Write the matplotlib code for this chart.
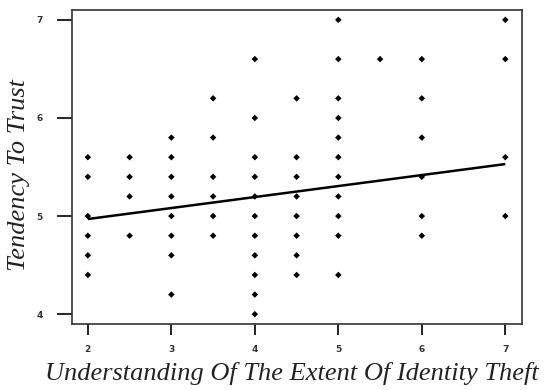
import numpy as np
import matplotlib
matplotlib.use("Agg")
import matplotlib.pyplot as plt

# --- Data: unique (x, y) positions --------------------------------------
understanding = [2, 2, 2, 2, 2, 2,
                 2.5, 2.5, 2.5, 2.5,
                 3, 3, 3, 3, 3, 3, 3, 3,
                 3.5, 3.5, 3.5, 3.5, 3.5, 3.5,
                 4, 4, 4, 4, 4, 4, 4, 4, 4, 4, 4,
                 4.5, 4.5, 4.5, 4.5, 4.5, 4.5, 4.5, 4.5,
                 5, 5, 5, 5, 5, 5, 5, 5, 5, 5, 5,
                 5.5,
                 6, 6, 6, 6, 6, 6,
                 7, 7, 7, 7]
trust = [5.6, 5.4, 5.0, 4.8, 4.6, 4.4,
         5.6, 5.4, 5.2, 4.8,
         5.8, 5.6, 5.4, 5.2, 5.0, 4.8, 4.6, 4.2,
         6.2, 5.8, 5.4, 5.2, 5.0, 4.8,
         6.6, 6.0, 5.6, 5.4, 5.2, 5.0, 4.8, 4.6, 4.4, 4.2, 4.0,
         6.2, 5.6, 5.4, 5.2, 5.0, 4.8, 4.6, 4.4,
         7.0, 6.6, 6.2, 6.0, 5.8, 5.6, 5.4, 5.2, 5.0, 4.8, 4.4,
         6.6,
         6.6, 6.2, 5.8, 5.4, 5.0, 4.8,
         7.0, 6.6, 5.6, 5.0]

# fitted regression line
fit_intercept = 4.746
fit_slope = 0.112

x_ticks = [2, 3, 4, 5, 6, 7]
y_ticks = [4, 5, 6, 7]

fig = plt.figure(figsize=(5.45, 3.9), dpi=100)
ax = fig.add_axes([0.1321, 0.1692, 0.8257, 0.8051])

ax.scatter(understanding, trust, s=11, c="black", marker="D",
           edgecolors="none", zorder=3)

fit_x = np.array([min(understanding), max(understanding)])
ax.plot(fit_x, fit_intercept + fit_slope * fit_x, color="black",
        linewidth=1.8, solid_capstyle="butt", zorder=4)

ax.set_xlim(1.81, 7.2)
ax.set_ylim(3.9, 7.1)
ax.set_xticks(x_ticks)
ax.set_yticks(y_ticks)
ax.tick_params(axis="x", direction="out", length=8, width=1.2, pad=7,
               labelsize=6.5, labelcolor="#333333")
ax.tick_params(axis="y", direction="out", length=11, width=1.2, pad=10,
               labelsize=6.5, labelcolor="#333333")
for lbl in ax.get_xticklabels() + ax.get_yticklabels():
    lbl.set_fontweight("bold")
for sp in ax.spines.values():
    sp.set_linewidth(1.2)
    sp.set_color("#333333")

label_font = dict(family="Liberation Serif", style="italic", size=19,
                  color="#222222")
fig.text(0.535, 0.0256, "Understanding Of The Extent Of Identity Theft",
         ha="center", va="baseline", **label_font)
fig.text(0.035, 0.551, "Tendency To Trust", rotation=90,
         ha="center", va="center", **label_font)

fig.savefig("out.png", dpi=100)
